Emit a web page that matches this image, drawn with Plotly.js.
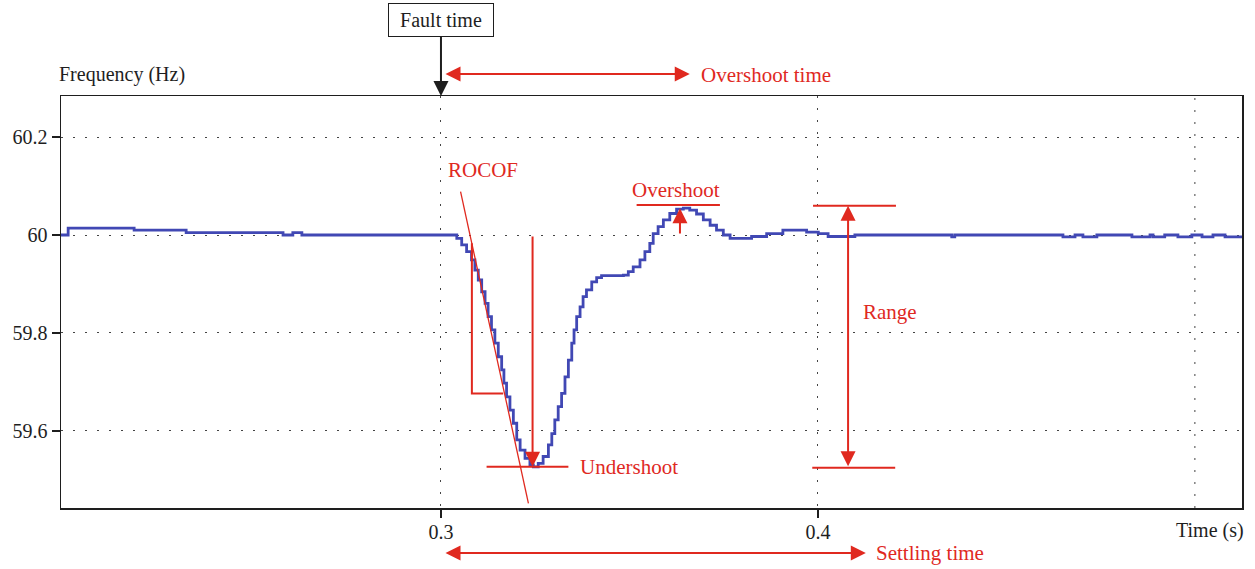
<!DOCTYPE html>
<html>
<head>
<meta charset="utf-8">
<script src="https://cdn.plot.ly/plotly-3.0.1.min.js"></script>
<style>
  html, body { margin: 0; padding: 0; background: #ffffff; }
  #chart { width: 1255px; height: 569px; }
</style>
</head>
<body>
<div id="chart"></div>
<script>
// ---- Data (time in s, frequency in Hz) ----
const timeS = [
  0.1992, 0.2011, 0.2186, 0.2324, 0.2581, 0.2607, 0.2631, 0.3028,
  0.3042, 0.3055, 0.3068, 0.3081, 0.3090, 0.3099, 0.3108, 0.3117,
  0.3125, 0.3134, 0.3143, 0.3152, 0.3161, 0.3167, 0.3174, 0.3183,
  0.3192, 0.3201, 0.3210, 0.3223, 0.3236, 0.3245, 0.3258, 0.3271,
  0.3285, 0.3294, 0.3302, 0.3311, 0.3320, 0.3329, 0.3338, 0.3347,
  0.3353, 0.3360, 0.3369, 0.3377, 0.3386, 0.3400, 0.3413, 0.3426,
  0.3484, 0.3497, 0.3510, 0.3528, 0.3541, 0.3554, 0.3563, 0.3576,
  0.3590, 0.3607, 0.3625, 0.3643, 0.3660, 0.3678, 0.3696, 0.3714,
  0.3731, 0.3749, 0.3767, 0.3824, 0.3864, 0.3907, 0.3970, 0.4001,
  0.4027, 0.4098, 0.4355, 0.4363, 0.4650, 0.4682, 0.4703, 0.4740,
  0.4833, 0.4881, 0.4889, 0.4920, 0.4955, 0.4992, 0.5019, 0.5048,
  0.5080, 0.5125
];
const freqHz = [
  60.000, 60.014, 60.010, 60.005, 60.000, 60.005, 60.000, 60.000,
  59.993, 59.980, 59.966, 59.949, 59.928, 59.908, 59.884, 59.860,
  59.833, 59.806, 59.779, 59.751, 59.724, 59.697, 59.669, 59.642,
  59.615, 59.581, 59.560, 59.543, 59.530, 59.526, 59.533, 59.547,
  59.571, 59.594, 59.622, 59.649, 59.676, 59.710, 59.744, 59.779,
  59.806, 59.833, 59.853, 59.874, 59.888, 59.904, 59.913, 59.917,
  59.918, 59.925, 59.935, 59.949, 59.966, 59.983, 60.003, 60.017,
  60.031, 60.044, 60.053, 60.055, 60.051, 60.043, 60.031, 60.020,
  60.010, 60.000, 59.993, 59.997, 60.003, 60.010, 60.006, 60.003,
  59.997, 60.000, 59.996, 60.000, 59.996, 60.000, 59.996, 60.000,
  59.996, 60.000, 59.996, 60.000, 59.996, 60.000, 59.996, 60.000,
  59.996, 59.996
];

// axis ticks
const xTickVals = [0.3, 0.4];
const xTickText = ["0.3", "0.4"];
const yTickVals = [59.6, 59.8, 60, 60.2];
const yTickText = ["59.6", "59.8", "60", "60.2"];
const xExtraGrid = [0.5];

// key event values (annotation anchors)
const faultTime = 0.3;
const overshootTimeEnd = 0.366;
const settlingTimeEnd = 0.4127;
const nominalHz = 60.0;
const undershootT = 0.3243, undershootHz = 59.526;
const overshootT = 0.3634, overshootHz = 60.0546;
const rangeT = 0.408, rangeTopHz = 60.060, rangeBotHz = 59.524;
const rocofLineT = [0.3052, 0.3232], rocofLineHz = [60.0886, 59.451];
const rocofTriT = [0.3082, 0.3082, 0.3165], rocofTriHz = [59.983, 59.676, 59.676];

const RED = '#e0291f';
const INK = '#1e1e1e';
const SERIF = '"Liberation Serif", "DejaVu Serif", serif';

const trace = {
  x: timeS, y: freqHz, type: 'scatter', mode: 'lines',
  line: { shape: 'hv', color: '#4148b4', width: 2.8 },
  hoverinfo: 'skip', showlegend: false
};

const gridStyle = { color: '#444', width: 1, dash: '2px,10px' };

const shapes = [];
xExtraGrid.forEach(v => shapes.push({
  type: 'line', xref: 'x', yref: 'paper', x0: v, x1: v, y0: 0, y1: 1,
  line: gridStyle, layer: 'below'
}));
// ROCOF tangent
shapes.push({ type: 'line', xref: 'x', yref: 'y',
  x0: rocofLineT[0], y0: rocofLineHz[0], x1: rocofLineT[1], y1: rocofLineHz[1],
  line: { color: RED, width: 1.3 } });
// ROCOF right triangle
shapes.push({ type: 'path', xref: 'x', yref: 'y',
  path: `M ${rocofTriT[0]},${rocofTriHz[0]} L ${rocofTriT[1]},${rocofTriHz[1]} L ${rocofTriT[2]},${rocofTriHz[2]}`,
  line: { color: RED, width: 2 } });
// undershoot level line
shapes.push({ type: 'line', xref: 'x', yref: 'y', x0: 0.3121, x1: 0.3338,
  y0: undershootHz, y1: undershootHz, line: { color: RED, width: 2 } });
// overshoot level line
shapes.push({ type: 'line', xref: 'x', yref: 'y', x0: 0.3519, x1: 0.3740,
  y0: 60.0613, y1: 60.0613, line: { color: RED, width: 2 } });
// range lines
shapes.push({ type: 'line', xref: 'x', yref: 'y', x0: 0.3987, x1: 0.4207,
  y0: rangeTopHz, y1: rangeTopHz, line: { color: RED, width: 2 } });
shapes.push({ type: 'line', xref: 'x', yref: 'y', x0: 0.3985, x1: 0.4205,
  y0: rangeBotHz, y1: rangeBotHz, line: { color: RED, width: 2 } });

const redFont = { family: SERIF, size: 21, color: RED };
const inkFont = { family: SERIF, size: 20, color: INK };

function dblArrowH(x0, x1, yPaper) {
  return { xref: 'x', yref: 'paper', x: x1, y: yPaper, axref: 'x', ayref: 'pixel',
    ax: x0, ay: 0, text: '', showarrow: true, arrowside: 'end+start',
    arrowhead: 2, startarrowhead: 2, arrowsize: 1.5, startarrowsize: 1.5,
    arrowwidth: 2, arrowcolor: RED, standoff: 0, startstandoff: 0 };
}

const annotations = [
  // Fault time box + arrow
  { xref: 'x', yref: 'paper', x: faultTime, y: 1.0, ax: 0, ay: -76,
    text: 'Fault time', font: { family: SERIF, size: 20, color: INK },
    showarrow: true, arrowhead: 2, arrowsize: 1.5, arrowwidth: 2, arrowcolor: INK,
    bordercolor: INK, borderwidth: 1, borderpad: 5, bgcolor: '#fff',
    width: 94, height: 22 },
  // Overshoot time
  dblArrowH(0.3008, overshootTimeEnd, 1.0534),
  { xref: 'x', yref: 'paper', x: 0.3684, y: 1.051, text: 'Overshoot time',
    showarrow: false, xanchor: 'left', yanchor: 'middle', font: redFont },
  // Settling time
  dblArrowH(0.3008, settlingTimeEnd, -0.1092),
  { xref: 'x', yref: 'paper', x: 0.4149, y: -0.1092, text: 'Settling time',
    showarrow: false, xanchor: 'left', yanchor: 'middle', font: redFont },
  // ROCOF label
  { xref: 'x', yref: 'y', x: 0.3013, y: 60.133, text: 'ROCOF',
    showarrow: false, xanchor: 'left', yanchor: 'middle', font: redFont },
  // Undershoot arrow + label
  { xref: 'x', yref: 'y', x: undershootT, y: undershootHz, axref: 'x', ayref: 'y',
    ax: undershootT, ay: nominalHz, text: '', showarrow: true,
    arrowhead: 2, arrowsize: 1.5, arrowwidth: 2, arrowcolor: RED, standoff: 0 },
  { xref: 'x', yref: 'y', x: 0.3364, y: undershootHz, text: 'Undershoot',
    showarrow: false, xanchor: 'left', yanchor: 'middle', font: redFont },
  // Overshoot arrow + label
  { xref: 'x', yref: 'y', x: overshootT, y: overshootHz, axref: 'x', ayref: 'y',
    ax: overshootT, ay: nominalHz, text: '', showarrow: true,
    arrowhead: 2, arrowsize: 1.5, arrowwidth: 2, arrowcolor: RED, standoff: 0 },
  { xref: 'x', yref: 'y', x: 0.3623, y: 60.092, text: 'Overshoot',
    showarrow: false, xanchor: 'center', yanchor: 'middle', font: redFont },
  // Range double arrow + label
  { xref: 'x', yref: 'y', x: rangeT, y: rangeTopHz, axref: 'x', ayref: 'y',
    ax: rangeT, ay: rangeBotHz, text: '', showarrow: true, arrowside: 'end+start',
    arrowhead: 2, startarrowhead: 2, arrowsize: 1.5, startarrowsize: 1.5,
    arrowwidth: 2, arrowcolor: RED, standoff: 0, startstandoff: 0 },
  { xref: 'x', yref: 'y', x: 0.4114, y: 59.843, text: 'Range',
    showarrow: false, xanchor: 'left', yanchor: 'middle', font: redFont },
  // axis captions
  { xref: 'paper', yref: 'paper', x: 0, xshift: -4, y: 1.051, text: 'Frequency (Hz)',
    showarrow: false, xanchor: 'left', yanchor: 'middle', font: inkFont },
  { xref: 'paper', yref: 'paper', x: 1, xshift: 4, y: -0.0558, text: 'Time (s)',
    showarrow: false, xanchor: 'right', yanchor: 'middle', font: inkFont }
];

const axisCommon = {
  showline: true, linecolor: INK, linewidth: 1.5, mirror: true,
  ticks: 'outside', ticklen: 8, tickwidth: 2, tickcolor: INK,
  showgrid: true, gridcolor: '#444', gridwidth: 1, griddash: '2px,10px',
  zeroline: false, tickfont: { family: SERIF, size: 20, color: INK },
  fixedrange: true
};

const layout = {
  width: 1255, height: 569,
  margin: { l: 61, r: 13, t: 96, b: 61 },
  paper_bgcolor: '#ffffff', plot_bgcolor: '#ffffff',
  showlegend: false,
  xaxis: Object.assign({}, axisCommon, {
    range: [0.1992, 0.5125], tickvals: xTickVals, ticktext: xTickText,
    ticklabelstandoff: -3
  }),
  yaxis: Object.assign({}, axisCommon, {
    range: [59.4417, 60.2843], tickvals: yTickVals, ticktext: yTickText
  }),
  shapes: shapes,
  annotations: annotations
};

Plotly.newPlot('chart', [trace], layout, { staticPlot: true, displayModeBar: false });
</script>
</body>
</html>
